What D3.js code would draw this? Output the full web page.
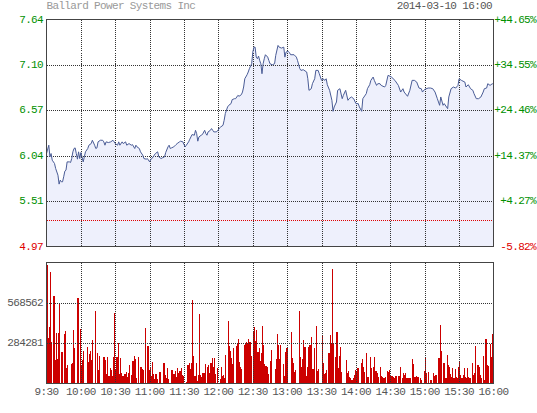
<!DOCTYPE html>
<html><head><meta charset="utf-8">
<script src="https://cdn.jsdelivr.net/npm/d3@7"></script>
<style>html,body{margin:0;padding:0;background:#fff;}svg{display:block;}</style>
</head><body><svg id="c" width="537" height="413"></svg>
<script>
const title = "Ballard Power Systems Inc";
const stamp = "2014-03-10 16:00";
const timeLabels = ["9:30","10:00","10:30","11:00","11:30","12:00","12:30","13:00","13:30","14:00","14:30","15:00","15:30","16:00"];
const prevClose = 5.28;
const pctTicks = [-5.82, 4.27, 14.37, 24.46, 34.55, 44.65];
const volTicks = [284281, 568562];
const volMax = 852843;
const priceMinutes = [0,2,3,4,5,7,8,10,11,12,13,14,15,16,17,18,20,21,22,23,24,25,26,27,28,29,30,31,32,33,34,36,37,39,40,42,43,44,45,47,49,50,51,52,54,56,58,59,60,62,63,64,66,67,69,70,72,74,75,77,78,79,81,82,84,85,87,88,90,91,92,94,95,97,98,100,101,103,104,106,107,108,109,111,113,114,116,117,119,120,121,122,124,125,126,127,129,130,131,132,133,135,136,138,139,140,141,143,144,145,146,148,149,151,152,154,155,156,158,159,161,162,164,165,167,168,170,171,172,173,175,176,177,179,180,181,182,183,184,185,186,187,188,189,190,191,193,194,
195,197,199,200,202,203,205,207,208,209,211,212,213,216,218,219,221,222,224,227,228,229,231,232,234,235,237,238,240,241,243,244,245,247,249,250,251,253,254,256,258,259,261,263,264,266,268,270,272,273,275,276,277,279,280,282,283,285,286,288,289,291,292,295,296,298,301,304,307,309,311,312,315,317,319,321,323,325,327,328,330,333,335,337,339,341,343,344,346,347,350,351,353,355,357,359,360,362,365,366,368,370,372,373,375,377,379,381,382,384,385,387,389,390];
const prices = [6.064,6.162,6.025,6.064,5.986,5.947,5.888,5.810,5.705,5.752,5.732,5.732,5.791,5.857,5.869,5.966,5.966,5.959,6.005,6.084,6.123,6.130,6.064,5.998,6.084,6.005,6.076,6.025,5.966,6.025,6.084,6.123,6.162,6.181,6.220,6.162,6.123,6.130,6.201,6.220,6.220,6.201,6.162,6.201,6.193,6.201,6.220,6.201,6.181,6.162,6.201,6.162,6.201,6.181,6.201,6.162,6.181,6.162,6.169,6.123,6.162,6.142,6.123,6.084,6.045,6.005,5.998,6.005,5.966,5.998,6.005,6.045,6.064,6.084,6.025,6.005,6.013,6.025,6.076,6.142,6.162,6.123,6.130,6.142,6.169,6.181,6.201,6.209,6.201,6.169,6.142,6.162,6.201,6.232,6.259,6.287,6.279,6.337,6.298,6.209,6.259,6.279,6.287,6.337,6.298,6.279,6.318,6.337,6.357,6.337,6.318,6.318,6.326,6.365,6.376,6.396,6.454,6.533,6.611,6.630,6.650,6.697,6.708,6.708,6.747,6.736,6.755,6.786,6.845,6.942,6.989,7.021,7.060,7.118,7.255,7.313,7.313,7.196,7.177,7.208,7.157,7.118,7.001,7.118,7.177,7.224,7.196,7.157,
7.118,7.106,7.118,7.216,7.333,7.313,7.302,7.313,7.196,7.255,7.263,7.247,7.224,7.224,7.196,7.157,7.060,7.040,7.048,7.021,6.942,6.806,6.825,6.884,6.942,7.040,7.040,7.001,6.923,6.942,6.923,6.942,6.872,6.806,6.689,6.560,6.611,6.669,6.806,6.825,6.708,6.747,6.806,6.689,6.708,6.728,6.708,6.650,6.650,6.611,6.560,6.708,6.728,6.767,6.825,6.872,6.923,6.962,6.923,6.864,6.884,6.884,6.864,6.845,6.864,6.982,6.962,6.923,6.864,6.786,6.825,6.786,6.736,6.806,6.923,6.923,6.903,6.833,6.825,6.786,6.818,6.833,6.833,6.825,6.786,6.708,6.630,6.728,6.630,6.650,6.591,6.728,6.825,6.845,6.833,6.864,6.942,6.923,6.903,6.845,6.872,6.825,6.806,6.767,6.708,6.708,6.728,6.786,6.825,6.833,6.884,6.864,6.884,6.872];
const volumes = [840000,321000,398000,787000,293000,0,617000,163000,356000,175000,356000,562000,0,224000,0,350000,370000,112000,128000,0,0,135000,147000,377000,252000,0,0,608000,0,384000,
128000,165000,228000,0,0,259000,154000,212000,231000,168000,308000,0,510000,0,217000,96000,196000,0,0,186000,186000,165000,70000,186000,54000,112000,93000,54000,186000,496000,
100000,186000,287000,70000,182000,77000,54000,54000,65000,82000,47000,77000,130000,0,58000,156000,193000,170000,42000,0,189000,0,119000,105000,96000,0,391000,0,268000,93000,
112000,54000,154000,70000,30000,70000,35000,0,84000,84000,0,0,147000,58000,42000,112000,35000,0,0,93000,65000,70000,89000,49000,112000,77000,89000,112000,58000,54000,
0,0,12000,130000,142000,100000,142000,588000,194000,52000,147000,19000,59000,493000,59000,47000,76000,71000,135000,0,118000,130000,71000,142000,178000,118000,178000,66000,0,107000,
0,30000,119000,54000,61000,42000,203000,0,440000,263000,233000,182000,135000,252000,0,268000,282000,315000,154000,119000,105000,0,275000,287000,291000,287000,315000,291000,193000,0,
368000,398000,298000,380000,221000,252000,158000,217000,408000,275000,135000,123000,119000,65000,0,158000,235000,0,0,105000,170000,352000,275000,170000,275000,0,135000,54000,221000,252000,
261000,0,0,365000,182000,142000,83000,95000,0,0,516000,190000,118000,173000,308000,261000,52000,118000,261000,272000,272000,332000,102000,249000,0,407000,88000,102000,0,0,
336000,142000,64000,71000,95000,0,213000,344000,280000,813000,280000,0,190000,367000,107000,194000,261000,83000,0,0,0,166000,71000,90000,47000,36000,28000,36000,59000,95000,
83000,107000,107000,0,142000,171000,118000,83000,0,213000,47000,0,190000,107000,0,118000,185000,90000,71000,47000,0,118000,52000,43000,36000,47000,0,90000,83000,95000,
59000,52000,47000,36000,52000,52000,0,52000,118000,0,36000,71000,59000,76000,36000,40000,36000,40000,0,173000,137000,47000,52000,47000,47000,0,36000,24000,0,88000,
178000,76000,0,83000,0,24000,0,71000,52000,59000,59000,0,182000,415000,232000,0,142000,147000,36000,201000,130000,118000,66000,47000,107000,36000,102000,47000,40000,118000,
154000,59000,40000,59000,107000,47000,40000,107000,47000,40000,0,142000,59000,71000,265000,0,130000,118000,59000,36000,0,194000,24000,313000,130000,123000,0,280000,190000,351000,0];

const svg = d3.select("#c");
const FONT = "'Liberation Mono', 'DejaVu Sans Mono', monospace";
const L = 46.5, R = 493.5, PT = 19.5, PB = 246.5, VT = 262.5, VB = 383.5;
const green = "#009000", red = "#e00000", grid = "#333";

const x = d3.scaleLinear().domain([0, 390]).range([L, R]);
const pctToPrice = p => prevClose * (1 + p / 100);
const priceTicks = pctTicks.map(pctToPrice);
const y = d3.scaleLinear().domain([priceTicks[0], priceTicks[priceTicks.length - 1]]).range([PB, PT]);
const yv = d3.scaleLinear().domain([0, volMax]).range([VB, VT + 0.5]);

const pts = priceMinutes.map((m, i) => [m, prices[i]]);

svg.append("path").datum(pts)
  .attr("d", d3.area().x(d => x(d[0])).y0(PB).y1(d => y(d[1])))
  .attr("fill", "#eef0fc");

const step = x(1) - x(0);
svg.append("g").attr("shape-rendering", "crispEdges")
  .selectAll("rect").data(volumes.map((v, i) => [i, v]).filter(d => d[1] > 0))
  .join("rect")
  .attr("x", d => x(d[0]))
  .attr("width", Math.max(1, step))
  .attr("y", d => yv(d[1]))
  .attr("height", d => VB - yv(d[1]))
  .attr("fill", "#cc0000");

const g = svg.append("g").attr("shape-rendering", "crispEdges").attr("stroke-dasharray", "1,1").attr("stroke-width", 1);
const vTicks = d3.range(1, timeLabels.length - 1).map(i => i * 30);
g.selectAll(".vp").data(vTicks).join("line")
  .attr("x1", d => Math.round(x(d)) + 0.5).attr("x2", d => Math.round(x(d)) + 0.5)
  .attr("y1", PT).attr("y2", PB).attr("stroke", grid);
g.selectAll(".vv").data(vTicks).join("line")
  .attr("x1", d => Math.round(x(d)) + 0.5).attr("x2", d => Math.round(x(d)) + 0.5)
  .attr("y1", VT).attr("y2", VB).attr("stroke", grid);
g.selectAll(".hp").data(priceTicks.slice(1, -1)).join("line")
  .attr("x1", L).attr("x2", R)
  .attr("y1", d => Math.round(y(d)) + 0.5).attr("y2", d => Math.round(y(d)) + 0.5).attr("stroke", grid);
g.append("line").attr("x1", L).attr("x2", R)
  .attr("y1", Math.round(y(prevClose)) + 0.5).attr("y2", Math.round(y(prevClose)) + 0.5).attr("stroke", red);
g.selectAll(".hv").data(volTicks).join("line")
  .attr("x1", L).attr("x2", R)
  .attr("y1", d => Math.round(yv(d)) + 0.5).attr("y2", d => Math.round(yv(d)) + 0.5).attr("stroke", grid);

svg.append("path").datum(pts)
  .attr("d", d3.line().x(d => x(d[0])).y(d => y(d[1])))
  .attr("fill", "none").attr("stroke", "#4a5c96").attr("stroke-width", 1);

svg.append("rect").attr("x", L).attr("y", PT).attr("width", R - L).attr("height", PB - PT)
  .attr("fill", "none").attr("stroke", "#444").attr("stroke-width", 1.3).attr("shape-rendering", "crispEdges");
svg.append("rect").attr("x", L).attr("y", VT).attr("width", R - L).attr("height", VB - VT)
  .attr("fill", "none").attr("stroke", "#444").attr("stroke-width", 1.3).attr("shape-rendering", "crispEdges");

const txt = (s, xx, yy, anchor, color) => svg.append("text").text(s)
  .attr("x", xx).attr("y", yy).attr("text-anchor", anchor).attr("fill", color)
  .attr("font-family", FONT).attr("font-size", "11px").attr("letter-spacing", "-0.65px")
  .attr("dominant-baseline", "central");

txt(title, L, 6, "start", "#999");
txt(stamp, 492, 6, "end", "#555");

priceTicks.forEach((p, i) => {
  const c = pctTicks[i] < 0 ? red : green;
  txt(p.toFixed(2), 43, y(p), "end", c);
  txt((pctTicks[i] > 0 ? "+" : "") + pctTicks[i].toFixed(2) + "%", 536, y(p), "end", c);
});
volTicks.forEach(v => txt(String(v), 43, yv(v), "end", "#555"));
timeLabels.forEach((t, i) => txt(t, x(i * 30), 392, "middle", "#555"));
</script></body></html>
